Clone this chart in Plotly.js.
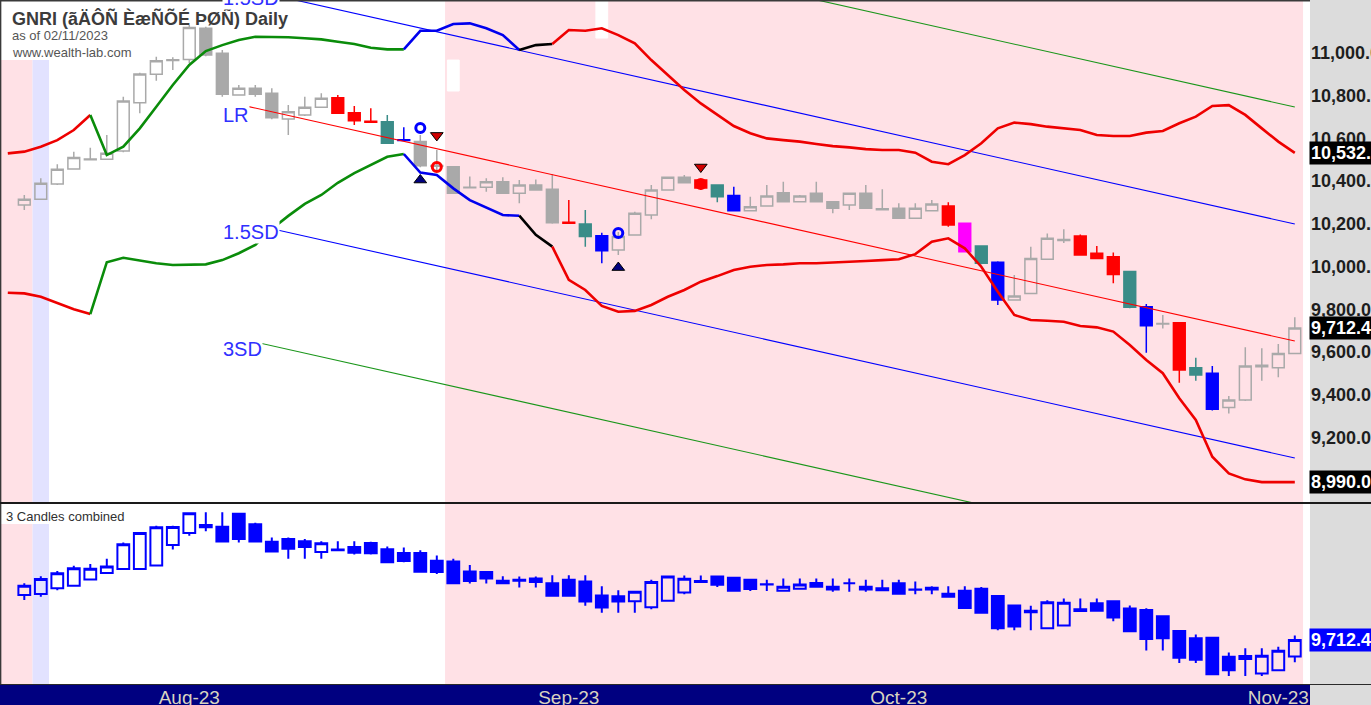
<!DOCTYPE html>
<html><head><meta charset="utf-8">
<script src="https://cdn.plot.ly/plotly-3.0.1.min.js"></script>
<style>html,body{margin:0;padding:0;background:#dcdcdc;overflow:hidden}#chart{width:1371px;height:705px}</style>
</head><body><div id="chart"></div>
<script>
// ---------------- DATA ----------------
const openP = [10288,10315,10386,10457,10500,10502,10541,10767,10900,10965,
 10970,11116,10999,10803,10835,10811,10691,10710,10746,10791,
 10720,10680,10678,10594,10585,10473,10467,10371,10371,10397,
 10343,10382,10362,10207,10199,10144,10077,10148,10241,10358,
 10418,10405,10382,10332,10261,10283,10346,10303,10343,10303,
 10288,10343,10270,10273,10226,10261,10283,10202,10096,10020,
 9843,9874,10034,10122,10143,10062,10046,9976,9812,9731,
 9737,9526,9500,9340,9375,9530,9526,9593];
const highP = [10335,10413,10479,10538,10556,10616,10795,10908,10983,10980,
 11131,11123,11014,10850,10850,10835,10756,10795,10811,10803,
 10752,10741,10710,10652,10616,10546,10470,10421,10413,10418,
 10405,10408,10433,10311,10265,10158,10162,10257,10382,10420,
 10429,10410,10385,10374,10327,10382,10397,10335,10397,10305,
 10345,10382,10362,10296,10296,10311,10301,10205,10100,10025,
 9960,10093,10155,10174,10150,10096,10065,9980,9824,9773,
 9740,9573,9534,9393,9622,9617,9637,9762];
const lowP = [10265,10311,10382,10455,10498,10500,10535,10718,10870,10920,
 10953,10985,10795,10800,10795,10690,10616,10705,10744,10715,
 10663,10674,10575,10588,10465,10447,10340,10369,10350,10340,
 10296,10355,10200,10201,10093,10015,10054,10145,10221,10355,
 10390,10358,10301,10258,10258,10280,10300,10300,10300,10249,
 10265,10270,10266,10222,10222,10258,10186,10065,10010,9820,
 9840,9870,10030,10110,10050,10035,9921,9805,9596,9710,
 9456,9465,9325,9312,9370,9465,9481,9590];
const closeP = [10315,10390,10455,10511,10504,10530,10775,10902,10964,10968,
 11120,10991,10807,10835,10807,10697,10725,10746,10788,10718,
 10683,10676,10577,10590,10472,10469,10343,10369,10397,10343,
 10382,10358,10205,10203,10140,10074,10140,10249,10358,10418,
 10392,10368,10327,10261,10280,10330,10303,10330,10303,10273,
 10343,10273,10266,10226,10273,10293,10194,10069,10015,9843,
 9862,10038,10132,10126,10054,10038,9963,9809,9723,9733,
 9515,9492,9331,9375,9534,9538,9593,9712.4];
// candle highlight tone per bar: g gray, r red, t teal, b blue, m magenta
const candleTone = ("ggggggggggggggggggg" + "rrrtb" + "ggggggggg" + "rtb" + "ggggg" + "rtb" +
  "gggggggggggg" + "rmtb" + "gggg" + "rrrtb" + "g" + "rtb" + "ggggg").split("");

// "3 Candles combined" panel
const comboOpen = [10212,10223,10288,10315,10386,10457,10500,10502,10541,10767,
 10900,10965,10970,11116,10999,10803,10835,10811,10691,10710,
 10746,10791,10720,10680,10678,10594,10585,10473,10467,10371,
 10371,10397,10343,10382,10362,10207,10199,10144,10077,10148,
 10241,10358,10418,10405,10382,10332,10261,10283,10346,10303,
 10343,10303,10288,10343,10270,10273,10226,10261,10283,10202,
 10096,10020,9843,9874,10034,10122,10143,10062,10046,9976,
 9812,9731,9737,9526,9500,9340,9375,9530];
const comboHigh = [10342,10420,10479,10538,10556,10616,10795,10908,10983,10983,
 11131,11131,11131,11123,11014,10850,10850,10835,10811,10811,
 10811,10803,10752,10741,10710,10652,10616,10546,10470,10421,
 10418,10418,10433,10433,10433,10311,10265,10257,10382,10420,
 10429,10429,10429,10410,10385,10382,10397,10397,10397,10397,
 10397,10382,10382,10382,10362,10311,10311,10311,10301,10205,
 10100,10093,10155,10174,10174,10174,10150,10096,10065,9980,
 9824,9773,9740,9573,9622,9622,9637,9762];
const comboLow = [10157,10193,10265,10311,10382,10455,10498,10500,10535,10718,
 10870,10920,10795,10795,10795,10690,10616,10616,10616,10705,
 10663,10663,10575,10575,10465,10447,10340,10340,10340,10340,
 10296,10296,10200,10200,10093,10015,10015,10015,10054,10145,
 10221,10355,10301,10258,10258,10258,10258,10280,10300,10249,
 10249,10249,10265,10222,10222,10222,10186,10065,10010,9820,
 9820,9820,9840,9870,10030,10035,9921,9805,9596,9596,
 9456,9456,9325,9312,9312,9312,9370,9465];
const comboClose = [10315,10390,10455,10511,10504,10530,10775,10902,10964,10968,
 11120,10991,10807,10835,10807,10697,10725,10746,10788,10718,
 10683,10676,10577,10590,10472,10469,10343,10369,10397,10343,
 10382,10358,10205,10203,10140,10074,10140,10249,10358,10418,
 10392,10368,10327,10261,10280,10330,10303,10330,10303,10273,
 10343,10273,10266,10226,10273,10293,10194,10069,10015,9843,
 9862,10038,10132,10126,10054,10038,9963,9809,9723,9733,
 9515,9492,9331,9375,9534,9538,9593,9712.4];

// envelope bands, first value belongs to bar -1
const bandFirstBar = -1;
const upperBand = [10530,10538,10561,10592,10639,10710,10522,10561,10647,10748,
 10850,10944,11009,11037,11061,11076,11076,11074,11069,11064,
 11053,11042,11025,11017,11017,11104,11104,11136,11139,11116,
 11084,11014,11037,11042,11108,11104,11116,11084,11045,10967,
 10897,10827,10764,10710,10658,10624,10600,10592,10585,10574,
 10564,10558,10550,10546,10546,10533,10491,10479,10522,10577,
 10647,10674,10667,10655,10647,10639,10616,10611,10611,10627,
 10635,10671,10702,10752,10756,10710,10647,10585,10532];
const lowerBand = [9877,9874,9858,9828,9800,9777,10020,10041,10027,10015,
 10007,10007,10010,10030,10062,10101,10176,10237,10293,10335,
 10392,10437,10475,10514,10527,10440,10429,10366,10311,10277,
 10241,10238,10148,10093,9937,9890,9815,9788,9792,9820,
 9858,9890,9929,9955,9984,9999,10007,10010,10015,10015,
 10018,10020,10026,10030,10034,10058,10116,10132,10085,9999,
 9882,9773,9749,9746,9741,9721,9715,9695,9632,9562,
 9500,9383,9281,9109,9031,9003,8990,8990,8990];

// linear regression channel
const lrStartBar = 13.6, lrStartVal = 10749;
const lrEndBar = 77, lrEndVal = 9651;
const sdOffset15 = 548, sdOffset3 = 1096;

// signal markers
const markBar  = [24, 25, 25, 24, 36, 36, 41, 41];
const markVal  = [10649, 10614, 10466, 10405, 10157, 9995, 10466, 10386];
const markKind = ['circleBlue','triDownRed','circleRed','triUpNavy','circleBlue','triUpNavy','triDownRed','circleRed'];

// white ghost bars
const ghostBar = [26, 35];
const ghostTop = [10967, 11260];
const ghostBottom = [10822, 11070];

// axes labels
const priceTicks = [9200, 9400, 9600, 9800, 10000, 10200, 10400, 10600, 10800, 11000];
const monthTickBar = [10, 33, 53, 76];
const monthTickText = ['Aug-23', 'Sep-23', 'Oct-23', 'Nov-23'];
const titleText = 'GNRI (ãÄÔÑ ÈæÑÕÉ ÞØÑ) Daily';

// ---------------- STYLE / LAYOUT ----------------
const W = 1371, H = 705, plotRight = 1310;
const x0px = 24.3, barPx = 16.5;
const xRange = [(0 - x0px) / barPx, (plotRight - x0px) / barPx];
const pyf = px => 1 - px / H;          // paper y from pixel y (t=b=0)
const pxf = px => px / plotRight;      // paper x from pixel x (l=0)
const mainDom = [pyf(502), pyf(1)], mainRange = [8896.9, 11243.6];
const botDom = [pyf(684), pyf(504)], botRange = [9223.5, 11223.5];
const valToPaper = v => mainDom[0] + (v - mainRange[0]) / (mainRange[1] - mainRange[0]) * (mainDom[1] - mainDom[0]);

const PINK = '#ffe1e6', LAV = '#e2e2ff';
const toneColor = {g:'#a9a9a9', r:'#ff0000', t:'#3a8c88', b:'#0000ff', m:'#ff00ff'};
const fmt = v => v.toLocaleString('en-US', {minimumFractionDigits: 2, maximumFractionDigits: 2});

const traces = [];

// regression channel lines
[[0,'#ff0000'],[sdOffset15,'#0000ff'],[-sdOffset15,'#0000ff'],[sdOffset3,'#1a961a'],[-sdOffset3,'#1a961a']].forEach(([off,col]) => {
  traces.push({type:'scatter', mode:'lines', x:[lrStartBar, lrEndBar], y:[lrStartVal+off, lrEndVal+off],
    line:{color:col, width:1.1}, xaxis:'x', yaxis:'y', hoverinfo:'skip'});
});

// main candles by tone
Object.keys(toneColor).forEach(tone => {
  const xs=[], o=[], h=[], l=[], c=[];
  candleTone.forEach((t,i) => { if (t===tone) { xs.push(i); o.push(openP[i]); h.push(highP[i]); l.push(lowP[i]); c.push(closeP[i]); } });
  const col = toneColor[tone];
  traces.push({type:'candlestick', x:xs, open:o, high:h, low:l, close:c, xaxis:'x', yaxis:'y',
    increasing:{line:{color:col, width:1.5}, fillcolor: tone==='g' ? 'rgba(0,0,0,0)' : col},
    decreasing:{line:{color:col, width:1.5}, fillcolor: col},
    whiskerwidth:0, hoverinfo:'skip'});
});

// ghost white bars
traces.push({type:'candlestick', x:ghostBar, open:ghostBottom, close:ghostTop, high:ghostTop, low:ghostBottom,
  xaxis:'x', yaxis:'y', increasing:{line:{color:'#ffffff', width:1}, fillcolor:'#ffffff'},
  decreasing:{line:{color:'#ffffff', width:1}, fillcolor:'#ffffff'}, hoverinfo:'skip'});

// envelope bands with coloured segments
const bandSegments = [[-1,4,'#ee0000'],[4,23,'#0a8c0a'],[23,30,'#0000ee'],[30,32,'#000000'],[32,77,'#ee0000']];
[upperBand, lowerBand].forEach(arr => {
  bandSegments.forEach(([a,b,col]) => {
    const xs=[], ys=[];
    for (let i=a; i<=b; i++) { xs.push(i); ys.push(arr[i - bandFirstBar]); }
    traces.push({type:'scatter', mode:'lines', x:xs, y:ys, line:{color:col, width:2.6},
      xaxis:'x', yaxis:'y', hoverinfo:'skip'});
  });
});

// markers
const markStyle = {
  circleBlue:{symbol:'circle-open', size:9, color:'#0000ff', line:{width:3, color:'#0000ff'}},
  circleRed:{symbol:'circle-open', size:9, color:'#ff0000', line:{width:3, color:'#ff0000'}},
  triDownRed:{symbol:'triangle-down', size:11, color:'#d00000', line:{width:1, color:'#000000'}},
  triUpNavy:{symbol:'triangle-up', size:11, color:'#000080', line:{width:1, color:'#000000'}}
};
Object.keys(markStyle).forEach(k => {
  const xs=[], ys=[];
  markKind.forEach((m,i) => { if (m===k) { xs.push(markBar[i]); ys.push(markVal[i]); } });
  traces.push({type:'scatter', mode:'markers', x:xs, y:ys, marker:markStyle[k], xaxis:'x', yaxis:'y', hoverinfo:'skip'});
});

// combined candles panel
traces.push({type:'candlestick', x:comboClose.map((_,i)=>i), open:comboOpen, high:comboHigh, low:comboLow, close:comboClose,
  xaxis:'x2', yaxis:'y2',
  increasing:{line:{color:'#0000ff', width:2}, fillcolor:'rgba(0,0,0,0)'},
  decreasing:{line:{color:'#0000ff', width:2}, fillcolor:'#0000ff'},
  whiskerwidth:0, hoverinfo:'skip'});

// shapes
const shapes = [];
const shadeRuns = [[-3, 0.5, PINK], [0.5, 1.5, LAV], [25.5, 77.5, PINK]];
shadeRuns.forEach(([a,b,col]) => {
  shapes.push({type:'rect', xref:'x', yref:'y domain', x0:a, x1:b, y0:0, y1:1, fillcolor:col, line:{width:0}, layer:'below'});
  shapes.push({type:'rect', xref:'x2', yref:'y2 domain', x0:a, x1:b, y0:0, y1:1, fillcolor:col, line:{width:0}, layer:'below'});
});
// white background boxes for the legends
shapes.push({type:'rect', xref:'x', yref:'y', x0:-3, x1:1.6, y0:10967, y1:11400, fillcolor:'#ffffff', line:{width:0}, layer:'below'});
shapes.push({type:'rect', xref:'x2', yref:'y2', x0:-3, x1:6.5, y0:11001, y1:11400, fillcolor:'#ffffff', line:{width:0}, layer:'below'});
// date strip
shapes.push({type:'rect', xref:'paper', yref:'paper', x0:0, x1:1, y0:-0.01, y1:pyf(685), fillcolor:'#000080', line:{width:0}, layer:'below'});
// frame lines
shapes.push({type:'line', xref:'paper', yref:'paper', x0:0, x1:1, y0:pyf(0.7), y1:pyf(0.7), line:{color:'#3a3a3a', width:1.5}});
shapes.push({type:'line', xref:'paper', yref:'paper', x0:pxf(0.6), x1:pxf(0.6), y0:pyf(684), y1:1, line:{color:'#3a3a3a', width:1.5}});
shapes.push({type:'line', xref:'paper', yref:'paper', x0:0, x1:pxf(W), y0:pyf(503), y1:pyf(503), line:{color:'#1a1a1a', width:2}});
shapes.push({type:'line', xref:'paper', yref:'paper', x0:0, x1:pxf(W), y0:pyf(684.5), y1:pyf(684.5), line:{color:'#2a2a2a', width:1.2}});

// annotations
const ann = [];
const F = 'Liberation Sans, Arial, sans-serif';
ann.push({xref:'paper', yref:'paper', x:pxf(10), y:pyf(18), xanchor:'left', yanchor:'middle', showarrow:false,
  text:titleText, font:{family:F, size:18, color:'#3c3c3c', weight:700}});
ann.push({xref:'paper', yref:'paper', x:pxf(10), y:pyf(36), xanchor:'left', yanchor:'middle', showarrow:false,
  text:'as of 02/11/2023', font:{family:F, size:13, color:'#555555'}});
ann.push({xref:'paper', yref:'paper', x:pxf(10), y:pyf(52), xanchor:'left', yanchor:'middle', showarrow:false,
  text:'www.wealth-lab.com', font:{family:F, size:13, color:'#555555'}});
ann.push({xref:'paper', yref:'paper', x:pxf(4), y:pyf(516), xanchor:'left', yanchor:'middle', showarrow:false,
  text:'3 Candles combined', font:{family:F, size:13, color:'#303030'}});
// channel labels
const chanLabelBar = 12;
[['LR',0],['1.5SD',sdOffset15],['1.5SD',-sdOffset15],['3SD',-sdOffset3]].forEach(([t,off]) => {
  ann.push({xref:'x', yref:'paper', x:chanLabelBar, y:valToPaper(lrStartVal+off), yshift:-8,
    xanchor:'left', yanchor:'middle', showarrow:false, text:t, bgcolor:'#ffffff', borderpad:0,
    font:{family:F, size:20, color:'#3030ff'}});
});
// last value tags
[[upperBand[upperBand.length-1],'#000000','y'],[closeP[closeP.length-1],'#000000','y'],[lowerBand[lowerBand.length-1],'#000000','y'],[comboClose[comboClose.length-1],'#0000ff','y2']].forEach(([v,bg,yr]) => {
  ann.push({xref:'paper', yref:yr, x:pxf(1309), y:v, xanchor:'left', yanchor:'middle', showarrow:false,
    text:fmt(v), bgcolor:bg, borderpad:1, font:{family:F, size:18, color:'#ffffff', weight:700}});
});

const layout = {
  width:W, height:H, margin:{l:0, r:W-plotRight, t:0, b:0, pad:0, autoexpand:false},
  paper_bgcolor:'#dcdcdc', plot_bgcolor:'#ffffff', showlegend:false, hovermode:false,
  boxgap:0.285, boxgroupgap:0, boxmode:'overlay',
  xaxis:{domain:[0,1], range:xRange, anchor:'y', showticklabels:false, showgrid:false, zeroline:false,
    showline:false, ticks:'', rangeslider:{visible:false}, fixedrange:true},
  yaxis:{domain:mainDom, range:mainRange, anchor:'x', side:'right', showgrid:false, zeroline:false, showline:false,
    ticks:'', tickvals:priceTicks, ticktext:priceTicks.map(fmt), ticklabelstandoff:0,
    tickfont:{family:F, size:18, color:'#1e1e1e', weight:700}, fixedrange:true},
  xaxis2:{domain:[0,1], range:xRange, anchor:'y2', showgrid:false, zeroline:false, showline:false, ticks:'',
    tickvals:monthTickBar, ticktext:monthTickText, tickfont:{family:F, size:19, color:'#d8d4c0'},
    ticklabelstandoff:0, rangeslider:{visible:false}, fixedrange:true},
  yaxis2:{domain:botDom, range:botRange, anchor:'x2', side:'right', showgrid:false, zeroline:false,
    showline:false, showticklabels:false, ticks:'', fixedrange:true},
  shapes:shapes, annotations:ann
};
Plotly.newPlot('chart', traces, layout, {staticPlot:true, displayModeBar:false});
</script></body></html>
